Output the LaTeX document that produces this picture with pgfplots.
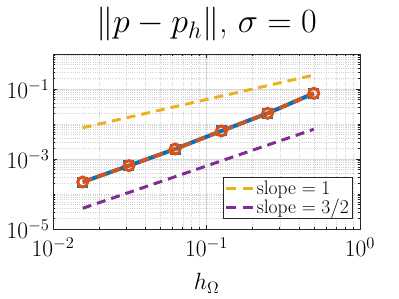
\documentclass[border=0pt]{standalone}
\usepackage{fix-cm}
\usepackage{pgfplots}
\pgfplotsset{compat=1.18}
\definecolor{mblue}{rgb}{0,0.447,0.741}
\definecolor{morange}{rgb}{0.85,0.325,0.098}
\definecolor{myellow}{rgb}{0.929,0.694,0.125}
\definecolor{mpurple}{rgb}{0.494,0.184,0.556}
\begin{document}
\begin{tikzpicture}
\useasboundingbox (-53pt,-70pt) rectangle (346pt,229pt);
\begin{axis}[
 scale only axis, width=307pt, height=175pt,
 xmode=log, ymode=log,
 xmin=1e-2, xmax=1, ymin=1e-5, ymax=1,
 xtick={1e-2,1e-1,1}, ytick={1e-5,1e-3,1e-1},
 minor xtick={2e-2,3e-2,4e-2,5e-2,6e-2,7e-2,8e-2,9e-2,2e-1,3e-1,4e-1,5e-1,6e-1,7e-1,8e-1,9e-1},
 minor ytick={2e-5,3e-5,4e-5,5e-5,6e-5,7e-5,8e-5,9e-5,1e-4,2e-4,3e-4,4e-4,5e-4,6e-4,7e-4,8e-4,9e-4,2e-3,3e-3,4e-3,5e-3,6e-3,7e-3,8e-3,9e-3,1e-2,2e-2,3e-2,4e-2,5e-2,6e-2,7e-2,8e-2,9e-2,2e-1,3e-1,4e-1,5e-1,6e-1,7e-1,8e-1,9e-1,1},
 grid=both,
 major grid style={draw=black!15, line width=0.6pt},
 minor grid style={draw=black!18, dash pattern=on 0.6pt off 1.6pt, line width=0.4pt},
 tick align=inside,
 major tick length=4pt, minor tick length=2.2pt,
 tick style={black!85, line width=0.5pt},
 axis line style={black!85, line width=0.6pt},
 ticklabel style={font=\fontsize{23.5}{24}\selectfont},
 xticklabel style={anchor=base, yshift=-28pt},
 title={$\|p-p_h\|$, $\sigma=0$},
 title style={font=\fontsize{34}{36}\selectfont, at={(0.5,1)}, anchor=base, yshift=15pt},
 xlabel={$h_\Omega$},
 xlabel style={font=\fontsize{23.5}{24}\selectfont, at={(0.5,0)}, anchor=base, yshift=-61pt},
 legend style={at={(0.976,0.057)}, anchor=south east, font=\fontsize{19.5}{21}\selectfont, draw=black!85, line width=0.6pt, inner sep=1.5pt, row sep=-1pt},
 legend cell align=left,
 legend image code/.code={\draw[#1, dash pattern=on 10pt off 7pt] (0pt,0pt) -- (27pt,0pt);},
]
\addplot[mblue, line width=4pt, mark=square, mark size=4.5pt, mark options={solid, line width=2pt}, forget plot] coordinates {
 (0.015625,2.20e-4) (0.03125,6.46e-4) (0.0625,1.93e-3) (0.125,6.31e-3) (0.25,2.02e-2) (0.5,7.52e-2)};
\addplot[morange, line width=3.5pt, dash pattern=on 10pt off 5pt, mark=o, mark size=5pt, mark options={solid, line width=3pt}, forget plot] coordinates {
 (0.015625,2.20e-4) (0.03125,6.46e-4) (0.0625,1.93e-3) (0.125,6.31e-3) (0.25,2.02e-2) (0.5,7.52e-2)};
\addplot[myellow, line width=3pt, dash pattern=on 9pt off 6pt] coordinates {
 (0.015625,0.0078125) (0.5,0.25)};
\addlegendentry{slope $=1$}
\addplot[mpurple, line width=3pt, dash pattern=on 9pt off 6pt] coordinates {
 (0.015625,3.906e-5) (0.5,7.071e-3)};
\addlegendentry{slope $=3/2$}
\end{axis}
\end{tikzpicture}
\end{document}
